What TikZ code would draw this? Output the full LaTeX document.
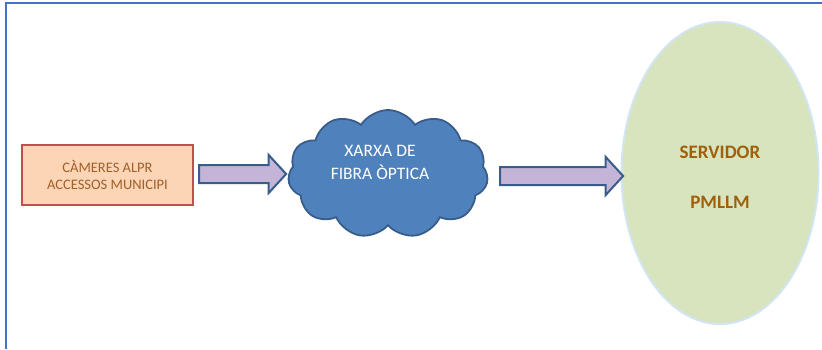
\documentclass[tikz,border=0pt]{standalone}
\usepackage[rgb]{xcolor}
\usepackage{fontspec}
\setmainfont{Carlito}
\usepackage{tikz}
\usetikzlibrary{shapes.symbols,shapes.arrows,shapes.geometric}

\definecolor{frameblue}{HTML}{4472C4}
\definecolor{peach}{HTML}{FBD5B5}
\definecolor{boxred}{HTML}{C0504D}
\definecolor{boxtext}{HTML}{A0602A}
\definecolor{netblue}{HTML}{4F81BD}
\definecolor{netedge}{HTML}{385D8A}
\definecolor{lilac}{HTML}{C3B4D8}
\definecolor{servgreen}{HTML}{D7E4BD}
\definecolor{servedge}{HTML}{D3E5F2}
\definecolor{servtext}{HTML}{A0600A}

\tikzset{
  camerabox/.style = {draw = boxred, line width = 2.6pt, fill = peach,
    minimum width = 171pt, minimum height = 60pt, align = center,
    text = boxtext, font = \fontsize{14.5}{17}\selectfont},
  fatarrow/.style = {single arrow, draw = netedge, line width = 2pt,
    fill = lilac, inner xsep = 0pt, inner ysep = 8pt,
    single arrow head extend = 10pt, single arrow tip angle = 95},
  netcloud/.style = {cloud, cloud puffs = 11, cloud puff arc = 115,
    draw = netedge, line width = 1.8pt, fill = netblue,
    minimum width = 200pt, minimum height = 128pt},
  servoval/.style = {ellipse, draw = servedge, line width = 2pt,
    fill = servgreen, minimum width = 197pt, minimum height = 302pt}
}

\begin{document}
\begin{tikzpicture}[x=1pt, y=-1pt]

\useasboundingbox (0,0) rectangle (822,349);

% frame, only top and left edges show
\draw[frameblue, line width = 1.2pt] (6,349) -- (6,3) -- (822,3);

% cameres
\node[camerabox] (cameres) at (107.5,175) {CÀMERES ALPR\\ACCESSOS MUNICIPI};

% fibre network cloud
\node[netcloud] (xarxa) at (388,174) {};
\node[align = center, text = white, font = \fontsize{17.5}{23}\selectfont]
  (xarxatext) at (380,162) {XARXA DE\\FIBRA ÒPTICA};

% server
\node[servoval] (servidor) at (720,173) {};
\node[align = center, text = servtext, font = \bfseries\fontsize{19}{23}\selectfont]
  (servtext) at (720,177) {SERVIDOR\\[27pt]PMLLM};

%% arrows between the blocks
\node[fatarrow, minimum height = 87pt] (arrowA) at (238.5,174) {};
\node[fatarrow, minimum height = 123pt] (arrowB) at (557.5,176) {};

\end{tikzpicture}
\end{document}
